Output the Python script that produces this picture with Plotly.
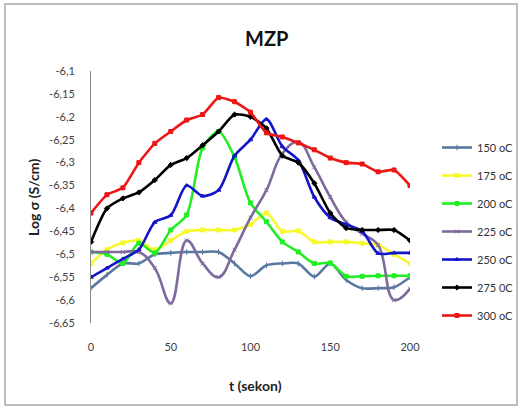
import plotly.graph_objects as go

t = [0, 10, 20, 30, 40, 50, 60, 70, 80, 90, 100, 110, 120, 130, 140, 150, 160, 170, 180, 190, 200]

s150 = [-6.574, -6.545, -6.52, -6.52, -6.50, -6.497, -6.495, -6.495, -6.495, -6.52, -6.548,
        -6.524, -6.52, -6.52, -6.549, -6.52, -6.556, -6.574, -6.574, -6.572, -6.55]
s175 = [-6.52, -6.49, -6.475, -6.47, -6.49, -6.47, -6.45, -6.447, -6.447, -6.447, -6.435,
        -6.41, -6.45, -6.449, -6.473, -6.473, -6.473, -6.476, -6.48, -6.50, -6.52]
s200 = [-6.495, -6.50, -6.52, -6.476, -6.497, -6.447, -6.414, -6.268, -6.232, -6.288, -6.388,
        -6.429, -6.473, -6.495, -6.52, -6.519, -6.548, -6.548, -6.547, -6.547, -6.547]
s225 = [-6.495, -6.495, -6.495, -6.495, -6.53, -6.607, -6.47, -6.52, -6.55, -6.49, -6.42,
        -6.36, -6.28, -6.255, -6.31, -6.375, -6.43, -6.455, -6.48, -6.60, -6.575]
s250 = [-6.55, -6.53, -6.51, -6.49, -6.43, -6.415, -6.35, -6.373, -6.36, -6.285, -6.25,
        -6.205, -6.265, -6.295, -6.375, -6.42, -6.435, -6.45, -6.498, -6.497, -6.497]
s275 = [-6.473, -6.40, -6.378, -6.365, -6.338, -6.305, -6.29, -6.262, -6.232, -6.195, -6.20,
        -6.225, -6.285, -6.30, -6.345, -6.41, -6.443, -6.447, -6.447, -6.447, -6.47]
s300 = [-6.41, -6.37, -6.355, -6.30, -6.258, -6.232, -6.207, -6.195, -6.158, -6.167, -6.19,
        -6.235, -6.244, -6.257, -6.272, -6.29, -6.30, -6.303, -6.32, -6.316, -6.35]

names = ["150 oC", "175 oC", "200 oC", "225 oC", "250 oC", "275 0C", "300 oC"]
series = [s150, s175, s200, s225, s250, s275, s300]
colors = ["#5878A0", "#F8F830", "#22EE22", "#7E6A9C", "#1414C8", "#000000", "#EE1515"]
symbols = ["line-ns", "square", "square", "x-thin", "triangle-up", "diamond", "square"]
smooth = [0.8, 0.8, 0.8, 1.2, 0.8, 0.6, 0.5]

ytickvals = [-6.1, -6.15, -6.2, -6.25, -6.3, -6.35, -6.4, -6.45, -6.5, -6.55, -6.6, -6.65]
yticktext = ["-6,1", "-6,15", "-6,2", "-6,25", "-6,3", "-6,35", "-6,4", "-6,45", "-6,5",
             "-6,55", "-6,6", "-6,65"]
xtickvals = [0, 50, 100, 150, 200]
xticktext = ["0", "50", "100", "150", "200"]

FONT = "Lato"
fig = go.Figure()
for i, (nm, ys) in enumerate(zip(names, series)):
    fig.add_trace(go.Scatter(
        x=t, y=ys, name=nm, mode="lines+markers", legendgroup=nm,
        line=dict(color=colors[i], width=2.6, shape="spline", smoothing=smooth[i]),
        marker=dict(symbol=symbols[i], size=4, color=colors[i],
                    line=dict(color=colors[i], width=1)),
    ))

W, H = 522, 410
L, R, T, B = 91, 410, 71, 323
pw, ph = R - L, B - T

def px(x):
    return (x - L) / pw

def py(y):
    return (B - y) / ph

fig.update_layout(
    width=W, height=H,
    margin=dict(l=L, r=W - R, t=T, b=H - B, pad=0, autoexpand=False),
    paper_bgcolor="white", plot_bgcolor="white",
    font=dict(family=FONT, size=11, color="#404040"),
    showlegend=True,
    legend=dict(x=px(437), y=py(133), xanchor="left", yanchor="top",
                font=dict(family=FONT, size=11, color="#333333"),
                tracegroupgap=9, itemwidth=30, bgcolor="rgba(0,0,0,0)"),
    xaxis=dict(range=[0, 200], tickvals=xtickvals, ticktext=xticktext,
               showgrid=False, zeroline=False, showline=False, ticks="",
               ticklabelstandoff=16, tickfont=dict(size=11, color="#404040")),
    yaxis=dict(range=[-6.65, -6.1], tickvals=ytickvals, ticktext=yticktext,
               showgrid=False, zeroline=False, showline=True, linecolor="#8A8A8A",
               linewidth=1, ticks="", ticklabelstandoff=13,
               tickfont=dict(size=11, color="#404040")),
    annotations=[
        dict(text="<b>MZP</b>", x=px(266), y=py(38), xref="paper", yref="paper",
             showarrow=False, xanchor="center", yanchor="middle",
             font=dict(family=FONT, size=20, color="#111111")),
        dict(text="<b>Log σ (S/cm)</b>", x=px(33), y=py(197), xref="paper", yref="paper",
             showarrow=False, xanchor="center", yanchor="middle", textangle=-90,
             font=dict(family=FONT, size=14, color="#222222")),
        dict(text="<b>t (sekon)</b>", x=px(255), y=py(385), xref="paper", yref="paper",
             showarrow=False, xanchor="center", yanchor="middle",
             font=dict(family=FONT, size=14, color="#222222")),
    ],
    shapes=[
        dict(type="rect", xref="paper", yref="paper",
             x0=px(5), x1=px(517), y0=py(405), y1=py(4),
             line=dict(color="#A8A8A8", width=1.5), fillcolor="rgba(0,0,0,0)", layer="below"),
    ],
)

fig.write_html("out.html")
